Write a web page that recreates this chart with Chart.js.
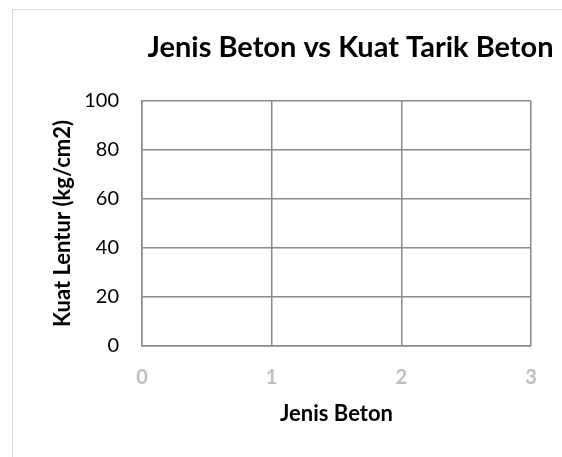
<!DOCTYPE html>
<html>
<head>
<meta charset="utf-8">
<script src="https://cdn.jsdelivr.net/npm/chart.js@4.4.1/dist/chart.umd.min.js"></script>
<style>
  html, body { margin: 0; padding: 0; background: #ffffff; overflow: hidden; }
  #wrap { position: relative; width: 562px; height: 457px; overflow: hidden; }
  #frame {
    position: absolute; left: 12px; top: 9px; width: 700px; height: 600px;
    border-left: 1px solid #d9d9d9; border-top: 1px solid #d9d9d9;
  }
  #chart { position: absolute; left: 0; top: 0; }
</style>
</head>
<body>
<div id="wrap">
  <div id="frame"></div>
  <canvas id="chart" width="562" height="457"></canvas>
</div>
<script>
// Axis ticks
const jenisBetonTicks = [0, 1, 2, 3];
const kuatLenturTicks = [0, 20, 40, 60, 80, 100];
// Measured values (no samples entered yet)
const jenisBeton = [];
const kuatLentur = [];

const chartTitle = 'Jenis Beton vs Kuat Tarik Beton';
const xTitle = 'Jenis Beton';
const yTitle = 'Kuat Lentur (kg/cm2)';

const gridColor = '#8a8a8a';
const fontFamily = 'Lato, "Liberation Sans", sans-serif';

// Shift the title's horizontal box so it centres over the wider frame
const titleShift = {
  id: 'titleShift',
  afterLayout(chart) {
    if (chart.titleBlock) {
      chart.titleBlock.left = 139;
      chart.titleBlock.right = 562;
    }
  }
};

new Chart(document.getElementById('chart'), {
  type: 'scatter',
  data: {
    datasets: [{
      label: yTitle,
      data: jenisBeton.map((x, i) => ({ x, y: kuatLentur[i] })),
      backgroundColor: '#4472c4',
      borderColor: '#4472c4'
    }]
  },
  plugins: [titleShift],
  options: {
    responsive: false,
    animation: false,
    layout: { padding: { left: 0, right: 31, top: 0, bottom: 0 } },
    plugins: {
      legend: { display: false },
      tooltip: { enabled: false },
      title: {
        display: true,
        text: chartTitle,
        color: '#000000',
        font: { family: fontFamily, size: 29, weight: 'bold', lineHeight: 1.2 },
        padding: { top: 30.6, bottom: 35.6 }
      }
    },
    scales: {
      x: {
        type: 'linear',
        position: 'bottom',
        min: jenisBetonTicks[0],
        max: jenisBetonTicks[jenisBetonTicks.length - 1],
        afterBuildTicks(scale) { scale.ticks = jenisBetonTicks.map(v => ({ value: v })); },
        afterFit(scale) { scale.height = 111; },
        grid: { color: gridColor, lineWidth: 1.5, drawTicks: false },
        border: { display: true, color: gridColor, width: 1.5 },
        ticks: {
          color: '#bfbfbf',
          padding: 20,
          maxRotation: 0,
          font: { family: fontFamily, size: 20, weight: 'bold' }
        },
        title: {
          display: true,
          text: xTitle,
          color: '#000000',
          font: { family: fontFamily, size: 22, weight: 'bold', lineHeight: 1.2 },
          padding: { top: 0, bottom: 29.8 }
        }
      },
      y: {
        type: 'linear',
        position: 'left',
        min: kuatLenturTicks[0],
        max: kuatLenturTicks[kuatLenturTicks.length - 1],
        afterBuildTicks(scale) { scale.ticks = kuatLenturTicks.map(v => ({ value: v })); },
        afterFit(scale) { scale.width = 142; },
        grid: { color: gridColor, lineWidth: 1.5, drawTicks: false },
        border: { display: true, color: gridColor, width: 1.5 },
        ticks: {
          color: '#000000',
          padding: 23,
          font: { family: fontFamily, size: 20, weight: 'normal' }
        },
        title: {
          display: true,
          text: yTitle,
          color: '#000000',
          font: { family: fontFamily, size: 22, weight: 'bold', lineHeight: 1.2 },
          padding: { top: 49.8, bottom: 0 }
        }
      }
    }
  }
});
</script>
</body>
</html>
